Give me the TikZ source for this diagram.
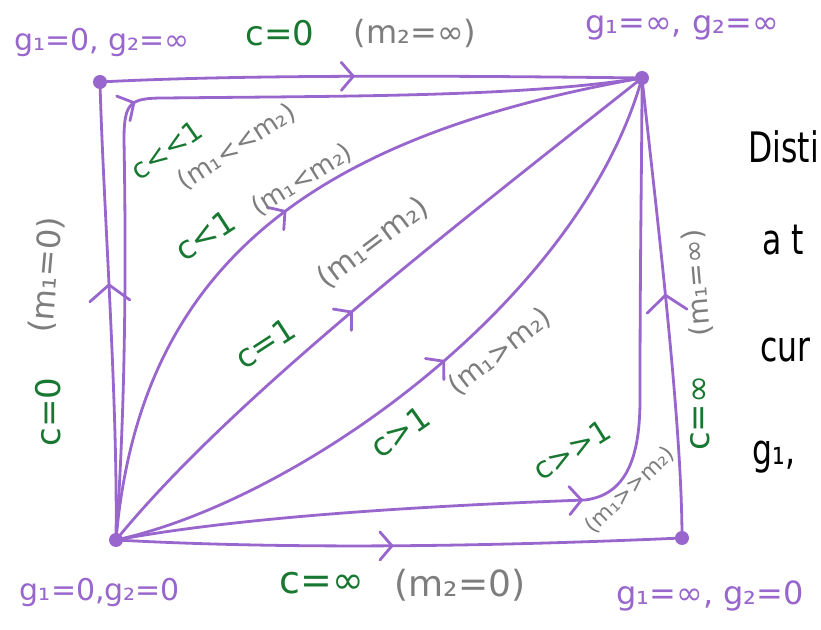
\documentclass[tikz,border=0pt]{standalone}
\usepackage{fontspec}
\setmainfont{DejaVu Sans}
\usetikzlibrary{arrows.meta}
\usetikzlibrary{decorations.markings}
\usetikzlibrary{positioning}

\definecolor{handpurple}{RGB}{152,102,204}
\definecolor{handgreen}{RGB}{24,120,50}
\definecolor{handgray}{RGB}{125,125,125}

% two signs in a row, kept apart so the font does not join them
\newcommand{\muchless}{<\kern0pt<}
\newcommand{\muchmore}{>\kern0pt>}

\tikzset{
    dot/.style={circle, fill=handpurple, inner sep=0pt, minimum size=7pt},
    flow/.style={draw=handpurple, line width=1.4pt, line cap=round, line join=round},
    midarrow/.style={postaction={decorate, decoration={markings,
        mark=at position #1 with {\arrow{Straight Barb[length=6pt,width=14pt,round,color=handpurple,line width=1.4pt]}}}}},
    midarrowbig/.style={postaction={decorate, decoration={markings,
        mark=at position #1 with {\arrow{Straight Barb[length=8pt,width=20pt,round,color=handpurple,line width=1.4pt]}}}}},
    corner/.style={text=handpurple, inner sep=1pt, font=\fontsize{#1}{#1}\selectfont},
    cpl/.style={text=handgreen, inner sep=1pt, font=\fontsize{#1}{#1}\selectfont},
    mass/.style={text=handgray, inner sep=1pt, font=\fontsize{#1}{#1}\selectfont},
    note/.style={text=black, inner sep=0pt, anchor=base west, font=\fontsize{21}{21}\selectfont}
}

\begin{document}
\begin{tikzpicture}[x=0.5pt, y=-0.5pt]

\useasboundingbox (0,0) rectangle (821,630);
\clip (0,0) rectangle (821,630);

% 1. Corners of the square
\node[dot] (zeroinf)  at (100,82)  {};
\node[dot] (infinf)   at (642,78)  {};
\node[dot] (zerozero) at (116,540) {};
\node[dot] (infzero)  at (682,538) {};

\node[corner=15] (zeroinfLbl)  at (102,42)  {g₁=0, g₂=∞};
\node[corner=16] (infinfLbl)   at (682,28)  {g₁=∞, g₂=∞};
\node[corner=15] (zerozeroLbl) at (100,592) {g₁=0,g₂=0};
\node[corner=16, anchor=west] (infzeroLbl) at (614,596) {g₁=∞, g₂=0};

% 2. Flows between the corners
\draw[flow, midarrowbig=0.56] (zerozero.center) .. controls (118,400) and (103,200) .. (zeroinf.center);
\draw[flow, midarrow=0.47] (zeroinf.center) .. controls (250,74) and (480,76) .. (infinf.center);
\draw[flow, midarrow=0.465] (zerozero.center) .. controls (126,400) and (126,250) .. (124,140)
    .. controls (124,102) and (130,98) .. (165,98) .. controls (350,96) and (520,97) .. (infinf.center);
\draw[flow, midarrow=0.5] (zerozero.center) .. controls (140,260) and (320,135) .. (infinf.center);
\draw[flow, midarrow=0.47] (zerozero.center) .. controls (230,400) and (450,230) .. (infinf.center);
\draw[flow, midarrow=0.52] (zerozero.center) .. controls (300,500) and (580,300) .. (infinf.center);
\draw[flow, midarrow=0.51] (zerozero.center) .. controls (250,515) and (450,505) .. (585,500)
    .. controls (625,495) and (640,460) .. (640,400) .. controls (640,250) and (642,150) .. (infinf.center);
\draw[flow, midarrow=0.49] (zerozero.center) .. controls (300,550) and (500,546) .. (infzero.center);
\draw[flow, midarrowbig=0.53] (infzero.center) .. controls (682,420) and (655,200) .. (infinf.center);

% 3. Couplings and masses on the edges
\node[cpl=17] (ctop)   at (280,33) {c=0};
\node[mass=16] (mtop)  at (415,33) {(m₂=∞)};
\node[cpl=19] (cbot)   at (322,583) {c=∞};
\node[mass=18] (mbot)  at (460,585) {(m₂=0)};
\node[mass=16, rotate=85] (mleft) at (47,275) {(m₁=0)};
\node[cpl=17, rotate=90] (cleft)  at (48,412) {c=0};
\node[mass=14, rotate=95] (mright) at (697,283) {(m₁=∞)};
\node[cpl=17, rotate=90] (cright) at (700,413) {c=∞};

% 4. Couplings and masses inside
\node[cpl=14, rotate=35] (cvl)  at (167,150) {c\muchless1};
\node[mass=13, rotate=33] (mvl) at (237,147) {(m₁\muchless m₂)};
\node[cpl=16, rotate=33] (cl)   at (205,235) {c<1};
\node[mass=13, rotate=32] (ml)  at (302,180) {(m₁<m₂)};
\node[cpl=16, rotate=33] (ceq)  at (265,343) {c=1};
\node[mass=15, rotate=37] (meq) at (373,243) {(m₁=m₂)};
\node[cpl=16, rotate=35] (cg)   at (400,432) {c>1};
\node[mass=14, rotate=38] (mg)  at (500,352) {(m₁>m₂)};
\node[cpl=15, rotate=32] (cvg)  at (572,450) {c\muchmore1};
\node[mass=11, rotate=44] (mvg) at (630,490) {(m₁\muchmore m₂)};

% 5. Notes on the right
\node[note] (noteA) at (748,163) {\scalebox{0.75}[1]{Disti}};
\node[note] (noteB) at (762,255) {\scalebox{0.75}[1]{a t}};
\node[note] (noteC) at (760,362) {\scalebox{0.75}[1]{cur}};
\node[note] (noteD) at (752,465) {\scalebox{0.75}[1]{g₁,}};

\end{tikzpicture}
\end{document}
